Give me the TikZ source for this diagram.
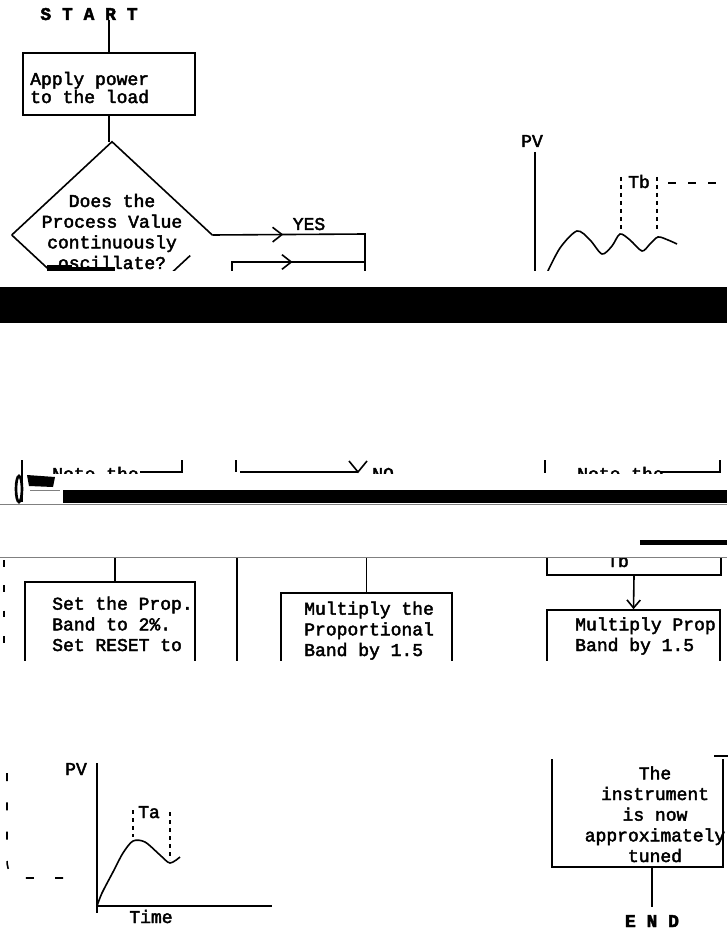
\documentclass[tikz,border=0pt]{standalone}
\usepackage{fontspec}
\setmonofont{Liberation Mono}[FakeBold=2.5]
\usetikzlibrary{positioning,shapes.geometric,arrows.meta,decorations.markings,calc}

\tikzset{
	flow/.style={line width=1.2pt},
	stepbox/.style={draw, line width=1.2pt, inner sep=0pt},
	tw/.style={font=\ttfamily\fontsize{13.5pt}{15.5pt}\selectfont, inner sep=0pt, align=left},
	twc/.style={tw, align=center},
	barb/.style={-{Straight Barb[length=6pt,width=10pt]}},
	midbarb/.style={postaction={decorate}, decoration={markings, mark=at position #1 with {\arrow{Straight Barb[length=7pt,width=11pt]}}}},
	scanbar/.style={fill=black, draw=none},
}

\begin{document}
\begin{tikzpicture}[x=0.75pt,y=-0.75pt]
	\useasboundingbox (0,0) rectangle (727,930);

	% top of the page
	\begin{scope}
		\clip (0,0) rectangle (727,271);
		\node[tw, font=\ttfamily\bfseries\fontsize{13.5pt}{15pt}\selectfont, anchor=base] (start) at (89,20) {S T A R T};
		\node[stepbox, minimum width=129pt, minimum height=46.5pt] (power) at (109,84) {};
		\node[tw, anchor=base west, font=\ttfamily\fontsize{13.5pt}{13.5pt}\selectfont] (powertxt) at (30,103) {Apply power\\to the load};
		\node[diamond, minimum width=150pt, minimum height=139.5pt, inner sep=0pt] (dia) at (112,235) {};
		\node[twc, anchor=base] (diatxt) at (112,269) {Does the\\Process Value\\continuously\\oscillate?};

		\draw[flow] (power.north |- start.south) -- (power.north);
		\draw[flow] (power.south) -- (power.south |- dia.north);
		\draw[flow] (dia.west) -- (dia.north) -- (dia.east);
		\draw[flow] (dia.west) -- (dia.south);
		\draw[flow] ($(dia.east)!0.22!(dia.south)$) -- (dia.south);

		\coordinate (yesturn) at (365,234);
		\coordinate (yesdown) at (365,290);
		\coordinate (loopup) at (232,290);
		\draw[flow, midbarb=0.34] (dia.east) -- (yesturn) -- (yesdown);
		\node[tw, anchor=base] (yes) at (309,230) {YES};
		\draw[flow, midbarb=0.55] (loopup) -- (loopup |- 0,262) -- (yesturn |- 0,262);

		% oscillation
		\node[tw, anchor=base] (pvtop) at (532,147) {PV};
		\draw[flow] (535,152) -- (535,280);
		\draw[flow] plot[smooth] coordinates {(546,275) (560,248) (577,231) (590,240) (602,254) (612,246) (620,234) (630,240) (642,251) (650,244) (658,237) (668,240) (677,244)};
		\node[tw, anchor=base] (tb) at (639,188) {Tb};
		\coordinate (tbout) at (727,183);
		\draw[flow, dashed] (621,177) -- (621,230);
		\draw[flow, dashed] (657,177) -- (657,230);
		\draw[flow, dash pattern=on 6pt off 9pt] (668,183) -- (tbout);

		% smudge
		\fill (47,265) rectangle (72,275);
		\draw[line width=3pt] (50,269) -- (115,269);
	\end{scope}

	\fill[scanbar] (0,287) rectangle (727,323);

	% cut row
	\begin{scope}
		\clip (0,458) rectangle (727,473);
		\node[tw, anchor=base west] (notea) at (52,480) {Note the};
		\node[tw, anchor=base west] (no) at (372,480) {NO};
		\node[tw, anchor=base west] (noteb) at (577,480) {Note the};
		\draw[flow] (140,472) -- (182,472) -- (182,460);
		\draw[flow] (236,460) -- (236,472);
		\draw[flow] (240,472) -- (358,472);
		\draw[flow] (349,461) -- (358,472) -- (367,461);
		\draw[flow] (545,460) -- (545,473);
		\draw[flow] (660,472) -- (720,472) -- (720,460);
	\end{scope}
	\draw[flow] (22,460) -- (22,502);
	\draw[line width=2pt] (19,489) ellipse (3 and 13);
	\fill (27,475) -- (55,477) -- (53,487) -- (29,486) -- cycle;
	\draw[gray, line width=0.6pt] (30,490) -- (60,490);

	\fill[scanbar] (63,490) rectangle (727,503);
	\draw[gray, line width=0.6pt] (0,504) -- (727,504);
	\fill[scanbar] (640,540) rectangle (727,545);
	\draw[gray, line width=0.6pt] (0,557) -- (727,557);

	% middle strip
	\begin{scope}
		\clip (0,558) rectangle (727,660);
		\node[stepbox, minimum width=130.5pt, minimum height=45pt] (tbbox) at (634,545) {};
		\node[tw, anchor=base] (tbtxt) at (618,567) {Tb};
		\node[stepbox, minimum width=129.75pt, minimum height=60pt] (mprop) at (633.5,650) {};
		\node[tw, anchor=base west] (mproptxt) at (575,651) {Multiply Prop\\Band by 1.5};
		\draw[flow, barb] (tbbox.south) -- (mprop.north);

		\node[stepbox, minimum width=127.5pt, minimum height=81pt] (setpb) at (110,636) {};
		\node[tw, anchor=base west] (setpbtxt) at (52,651) {Set the Prop.\\Band to 2\%.\\Set RESET to};
		\coordinate (setin) at (115,550);
		\draw[flow] (setin) -- (setin |- setpb.north);

		\node[stepbox, minimum width=128.25pt, minimum height=72.75pt] (mult) at (366.5,641.5) {};
		\node[tw, anchor=base west] (multtxt) at (304,656) {Multiply the\\Proportional\\Band by 1.5};
		\coordinate (multin) at (366.5,550);
		\draw[flow] (multin) -- (mult.north);
		\coordinate (midtop) at (237,550);
		\coordinate (midbot) at (237,670);
		\draw[flow] (midtop) -- (midbot);

		\draw[flow, dash pattern=on 5pt off 14pt] (4,560) -- (4,660);
	\end{scope}

	% bottom of the page
	\begin{scope}
		\clip (0,759) rectangle (727,930);
		\draw[flow, dash pattern=on 6pt off 16pt] (7,773) -- (7,860) .. controls (7,872) and (12,878) .. (24,878) -- (82,878);

		\node[tw, anchor=base] (pvbot) at (76,775) {PV};
		\node[tw, anchor=base] (time) at (151,923) {Time};
		\node[tw, anchor=base] (ta) at (149,818) {Ta};
		\draw[flow] (97,763) -- (97,913);
		\draw[flow] (97,906) -- (272,906);
		\draw[flow] plot[smooth] coordinates {(97,906) (102,893) (113,872) (123,853) (133,841) (145,842) (160,855) (170,863) (180,857)};
		\draw[flow, dashed] (133,810) -- (133,837);
		\draw[flow, dashed] (170,812) -- (170,860);

		\node[stepbox, minimum width=128.25pt, minimum height=82.5pt] (instr) at (637.5,812) {};
		\node[twc, anchor=base] (instrtxt) at (655,862) {The\\instrument\\is now\\approximately\\tuned};
		\node[tw, font=\ttfamily\bfseries\fontsize{13.5pt}{15pt}\selectfont, anchor=base] (endn) at (652,927) {E N D};
		\draw[flow] (instr.south -| endn.north) -- ([yshift=6pt]endn.north);
	\end{scope}
	\draw[flow] (instr.north east) -- ++(4,0) (instr.north east) -- ++(-10,0);
\end{tikzpicture}
\end{document}
